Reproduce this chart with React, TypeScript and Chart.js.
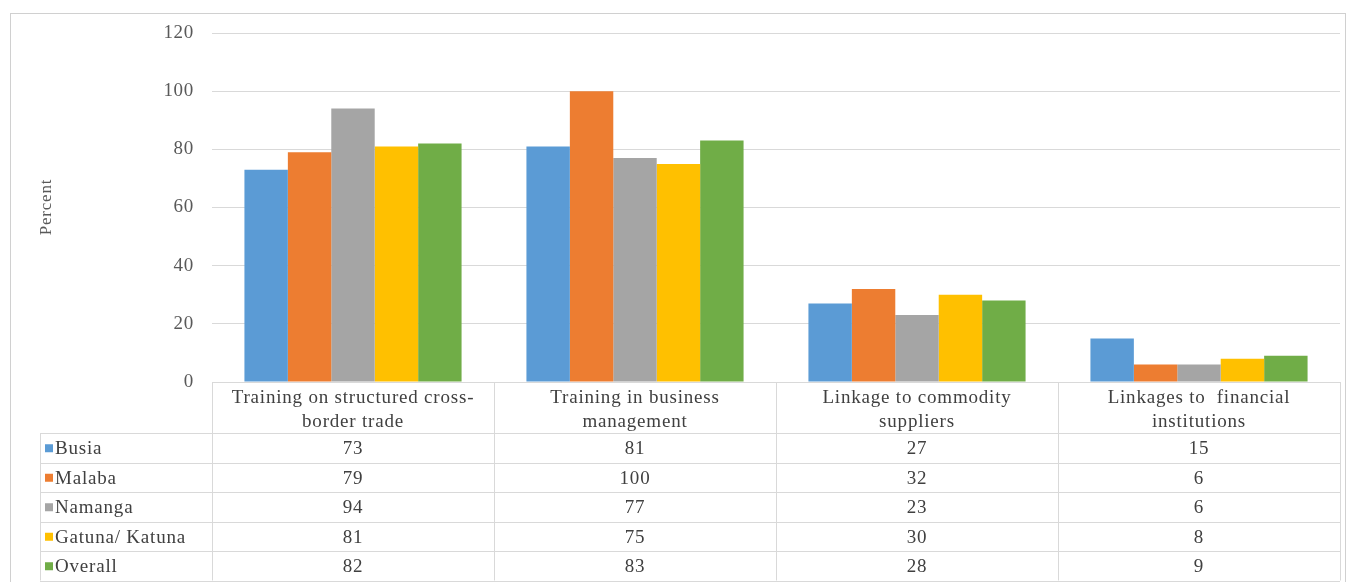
import React, { useEffect, useRef } from "react";
import { Chart, registerables } from "chart.js";

Chart.register(...registerables);

// Categories (two-line labels as shown in the table header)
const categories: string[][] = [
  ["Training on structured cross-", "border trade"],
  ["Training in business", "management"],
  ["Linkage to commodity", "suppliers"],
  ["Linkages to  financial", "institutions"],
];

const seriesNames = ["Busia", "Malaba", "Namanga", "Gatuna/ Katuna", "Overall"];
const busia = [73, 81, 27, 15];
const malaba = [79, 100, 32, 6];
const namanga = [94, 77, 23, 6];
const gatuna = [81, 75, 30, 8];
const overall = [82, 83, 28, 9];
const seriesValues = [busia, malaba, namanga, gatuna, overall];
const seriesColors = ["#5B9BD5", "#ED7D31", "#A5A5A5", "#FFC000", "#70AD47"];

const yMax = 120;
const yStep = 20;
const yTitle = "Percent";

const FONT = "'Liberation Serif', 'DejaVu Serif', serif";
const GRID = "#d9d9d9";
const TEXT = "#404040";

// Draws the outer frame, axis title and the data table under the plot.
const tablePlugin = {
  id: "dataTable",
  beforeDraw(chart: any) {
    const { ctx, width, height } = chart;
    ctx.save();
    ctx.fillStyle = "#ffffff";
    ctx.fillRect(0, 0, width, height);
    ctx.strokeStyle = "#d0d0d0";
    ctx.lineWidth = 1;
    ctx.strokeRect(10.5, 13.5, width - 16, height);
    ctx.restore();
    // slightly wider tracking for all text on the canvas (axis ticks included)
    ctx.letterSpacing = "0.7px";
  },
  afterDraw(chart: any) {
    const { ctx, chartArea } = chart;
    const x = chart.scales.x;
    const left = chartArea.left;
    const right = chartArea.right;
    const top = chartArea.bottom;
    const headerBottom = top + 51;
    const rowH = 29.5;
    const legendLeft = 40;
    const n = categories.length;
    const catW = (right - left) / n;
    const tableBottom = headerBottom + rowH * seriesNames.length;

    ctx.save();
    ctx.strokeStyle = GRID;
    ctx.lineWidth = 1;
    const hline = (y: number, x0: number, x1: number) => {
      ctx.beginPath();
      ctx.moveTo(x0, Math.round(y) + 0.5);
      ctx.lineTo(x1, Math.round(y) + 0.5);
      ctx.stroke();
    };
    const vline = (xx: number, y0: number, y1: number) => {
      ctx.beginPath();
      ctx.moveTo(Math.round(xx) + 0.5, y0);
      ctx.lineTo(Math.round(xx) + 0.5, y1);
      ctx.stroke();
    };
    hline(top, left, right);
    for (let r = 0; r <= seriesNames.length; r++) {
      hline(headerBottom + r * rowH, legendLeft, right);
    }
    for (let i = 0; i <= n; i++) {
      vline(left + i * catW, top, tableBottom);
    }
    vline(legendLeft, headerBottom, tableBottom);

    // header labels
    ctx.letterSpacing = "0.8px";
    ctx.fillStyle = TEXT;
    ctx.font = `19px ${FONT}`;
    ctx.textAlign = "center";
    ctx.textBaseline = "middle";
    categories.forEach((lines, i) => {
      const cx = x.getPixelForValue(i);
      lines.forEach((ln, k) => {
        ctx.fillText(ln, cx, top + 16 + k * 24);
      });
    });

    // rows
    seriesNames.forEach((name, r) => {
      const cy = headerBottom + r * rowH + rowH / 2 + 1.5;
      ctx.fillStyle = seriesColors[r];
      ctx.fillRect(45, cy - 5, 8, 8);
      ctx.fillStyle = TEXT;
      ctx.textAlign = "left";
      ctx.fillText(name, 55, cy);
      ctx.textAlign = "center";
      seriesValues[r].forEach((v, i) => {
        ctx.fillText(String(v), x.getPixelForValue(i), cy);
      });
    });

    // rotated axis title
    ctx.save();
    ctx.translate(47, 207);
    ctx.rotate(-Math.PI / 2);
    ctx.letterSpacing = "0.8px";
    ctx.font = `17px ${FONT}`;
    ctx.fillStyle = "#595959";
    ctx.textAlign = "center";
    ctx.fillText(yTitle, 0, 0);
    ctx.restore();

    ctx.restore();
  },
};

export default function App() {
  const ref = useRef<HTMLCanvasElement>(null);

  useEffect(() => {
    document.body.style.margin = "0";
    const canvas = ref.current;
    if (!canvas) return;
    const chart = new Chart(canvas, {
      type: "bar",
      data: {
        labels: categories.map((c) => c.join(" ")),
        datasets: seriesNames.map((name, i) => ({
          label: name,
          data: seriesValues[i],
          backgroundColor: seriesColors[i],
          borderWidth: 0,
          barPercentage: 1,
          categoryPercentage: 0.77,
        })),
      },
      options: {
        responsive: false,
        animation: false,
        layout: { padding: { top: 33, right: 11, bottom: 200, left: 0 } },
        plugins: {
          legend: { display: false },
          tooltip: { enabled: false },
        },
        scales: {
          x: { display: false },
          y: {
            min: 0,
            max: yMax,
            ticks: {
              stepSize: yStep,
              padding: 18,
              color: "#595959",
              font: { family: FONT, size: 19 },
            },
            grid: { color: GRID, drawTicks: false },
            border: { display: false },
            afterFit(scale: any) {
              scale.width = 212;
            },
          },
        },
      },
      plugins: [tablePlugin],
    });
    return () => chart.destroy();
  }, []);

  return (
    <div style={{ position: "absolute", left: 0, top: 0 }}>
      <canvas ref={ref} width={1351} height={582} />
    </div>
  );
}
